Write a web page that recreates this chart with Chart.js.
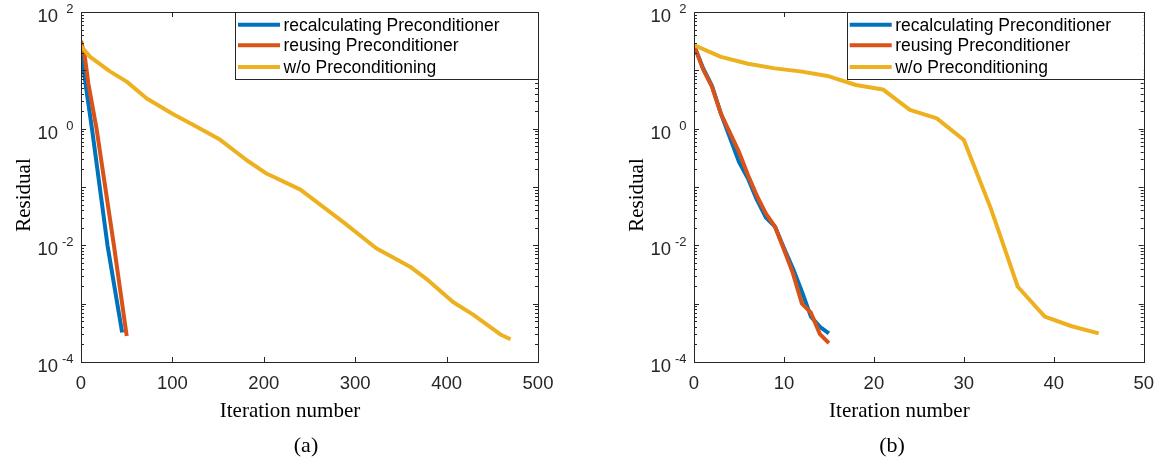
<!DOCTYPE html>
<html>
<head>
<meta charset="utf-8">
<title>Residual vs iteration number</title>
<script src="https://cdn.jsdelivr.net/npm/chart.js@4.4.1/dist/chart.umd.min.js"></script>
<style>
    body { margin: 0; background: #fff; width: 1165px; height: 467px; position: relative; overflow: hidden; }
    .panel { position: absolute; top: 0; }
    .caption { position: absolute; top: 432px; font-family: "Liberation Serif", "DejaVu Serif", serif; font-size: 22px; color: #000; transform: translateX(-50%); }
</style>
</head>
<body>
<div class="panel" style="left:0;"><canvas id="chartA" width="582" height="467"></canvas></div>
<div class="panel" style="left:582px;"><canvas id="chartB" width="583" height="467"></canvas></div>
<div class="caption" style="left:306px;">(a)</div>
<div class="caption" style="left:892px;">(b)</div>

<script>
// Series names
const seriesNames = ['recalculating Preconditioner', 'reusing Preconditioner', 'w/o Preconditioning'];
const seriesColors = ['#0072BD', '#D95319', '#EDB120'];

// Panel (a)
const aRecalcIter = [0, 3, 6, 12, 29, 45];
const aRecalcRes = [30, 10, 4.5, 1.0, 0.01, 3.2e-4];
const aReuseIter = [0, 4, 8, 17, 36, 50];
const aReuseRes = [32, 18, 6, 1.0, 0.01, 2.8e-4];
const aPlainIter = [0, 10, 32, 50, 72, 100, 123, 152, 181, 203, 240, 287, 323, 360, 380, 407, 429, 460, 470];
const aPlainRes = [26, 17, 9.5, 6.4, 3.3, 1.8, 1.16, 0.65, 0.29, 0.17, 0.09, 0.025, 0.0089, 0.0043, 0.0025, 0.00107, 0.00065, 0.00029, 0.000245];

// Panel (b)
const bIter = [0, 1, 2, 3, 4, 5, 6, 7, 8, 9, 10, 11, 12, 13, 14, 15];
const bRecalcRes = [27, 11, 5.4, 1.8, 0.7, 0.27, 0.14, 0.06, 0.03, 0.021, 0.009, 0.004, 0.0016, 0.0006, 0.0004, 0.00031];
const bReuseRes = [27, 10.5, 5.2, 1.8, 0.85, 0.4, 0.16, 0.07, 0.035, 0.021, 0.0085, 0.0033, 0.001, 0.0007, 0.0003, 0.00021];
const bPlainIter = [0, 3, 6, 9, 12, 15, 18, 21, 24, 27, 30, 33, 36, 39, 42, 45];
const bPlainRes = [27, 17, 13, 10.8, 9.5, 7.9, 5.6, 4.7, 2.1, 1.5, 0.64, 0.043, 0.00195, 0.0006, 0.00041, 0.00031];

// Axes
const yMin = 1e-4;
const yMax = 1e2;
const yLabelExponents = [-4, -2, 0, 2];
const xTitle = 'Iteration number';
const yTitle = 'Residual';

const AXIS_COLOR = '#262626';
const SANS = '"Liberation Sans", Arial, Helvetica, sans-serif';
const SERIF = '"Liberation Serif", "DejaVu Serif", serif';

function toPoints(xs, ys) {
    return xs.map((x, i) => ({ x: x, y: ys[i] }));
}

// MATLAB-like box, inward ticks, 10^n labels, titles and legend
const matlabAxes = {
    id: 'matlabAxes',
    afterDraw(chart) {
        const { ctx, chartArea: a, scales: { x, y } } = chart;
        ctx.save();
        ctx.strokeStyle = AXIS_COLOR;
        ctx.lineWidth = 1;

        // box
        ctx.strokeRect(Math.round(a.left) + 0.5, Math.round(a.top) + 0.5,
            Math.round(a.right - a.left), Math.round(a.bottom - a.top));

        ctx.beginPath();
        // x ticks, bottom and top
        x.ticks.forEach(t => {
            const px = Math.round(x.getPixelForValue(t.value)) + 0.5;
            ctx.moveTo(px, a.bottom); ctx.lineTo(px, a.bottom - 5);
            ctx.moveTo(px, a.top); ctx.lineTo(px, a.top + 5);
        });
        // y ticks, major + minor, left and right
        for (let d = -4; d <= 2; d++) {
            for (let m = 1; m <= 9; m++) {
                const v = m * Math.pow(10, d);
                if (v > yMax * 1.0001) break;
                const py = Math.round(y.getPixelForValue(v)) + 0.5;
                const len = m === 1 ? 5 : 3;
                ctx.moveTo(a.left, py); ctx.lineTo(a.left + len, py);
                ctx.moveTo(a.right, py); ctx.lineTo(a.right - len, py);
            }
        }
        ctx.stroke();

        // y tick labels 10^n
        ctx.fillStyle = AXIS_COLOR;
        ctx.textBaseline = 'alphabetic';
        yLabelExponents.forEach(e => {
            const py = y.getPixelForValue(Math.pow(10, e));
            ctx.textAlign = 'right';
            ctx.font = '18.5px ' + SANS;
            ctx.fillText('10', a.left - 23, py + 10);
            ctx.font = '13px ' + SANS;
            ctx.fillText(String(e), a.left - 7.5, py + 1);
        });

        // axis titles
        ctx.fillStyle = '#000';
        ctx.font = '21px ' + SERIF;
        ctx.textAlign = 'center';
        ctx.fillText(xTitle, (a.left + a.right) / 2 - 19.5, 416.5);
        ctx.save();
        ctx.translate(a.left - 57, 195);
        ctx.rotate(-Math.PI / 2);
        ctx.textBaseline = 'middle';
        ctx.fillText(yTitle, 0, 0);
        ctx.restore();

        // legend
        const lx = chart.options.plugins.matlabAxes.legendLeft;
        ctx.fillStyle = '#fff';
        ctx.fillRect(lx, a.top, a.right - lx, 67);
        ctx.strokeStyle = AXIS_COLOR;
        ctx.lineWidth = 1;
        ctx.strokeRect(Math.round(lx) + 0.5, Math.round(a.top) + 0.5, Math.round(a.right - lx), 67);
        ctx.font = '17.5px ' + SANS;
        ctx.textAlign = 'left';
        ctx.textBaseline = 'middle';
        const rows = [12.7, 33.3, 55];
        seriesNames.forEach((name, i) => {
            const ry = a.top + rows[i];
            ctx.strokeStyle = seriesColors[i];
            ctx.lineWidth = 4;
            ctx.beginPath();
            ctx.moveTo(lx + 3, ry); ctx.lineTo(lx + 45, ry);
            ctx.stroke();
            ctx.fillStyle = '#000';
            ctx.fillText(name, lx + 48.5, ry + 1);
        });
        ctx.restore();
    }
};

function makeChart(canvasId, sets, xMax, xStep, opts) {
    const datasets = sets.map((s, i) => ({
        label: seriesNames[i],
        data: s,
        borderColor: seriesColors[i],
        backgroundColor: seriesColors[i],
        borderWidth: 4,
        borderJoinStyle: 'round',
        pointRadius: 0,
        tension: 0,
        fill: false,
        order: 3 - i
    }));

    return new Chart(document.getElementById(canvasId), {
        type: 'line',
        data: { datasets: datasets },
        options: {
            responsive: false,
            animation: false,
            devicePixelRatio: 1,
            layout: { padding: { left: 0, top: 12, right: opts.padRight, bottom: 0 } },
            plugins: {
                legend: { display: false },
                tooltip: { enabled: false },
                matlabAxes: { legendLeft: opts.legendLeft }
            },
            scales: {
                x: {
                    type: 'linear',
                    min: 0,
                    max: xMax,
                    grid: { display: false, drawTicks: false },
                    border: { display: false },
                    ticks: {
                        stepSize: xStep,
                        autoSkip: false,
                        maxRotation: 0,
                        padding: 11,
                        color: AXIS_COLOR,
                        font: { family: SANS, size: 18.5 }
                    },
                    afterFit: (scale) => { scale.height = 105; }
                },
                y: {
                    type: 'logarithmic',
                    min: yMin,
                    max: yMax,
                    grid: { display: false, drawTicks: false },
                    border: { display: false },
                    ticks: { display: false },
                    afterFit: (scale) => { scale.width = opts.yWidth; }
                }
            }
        },
        plugins: [matlabAxes]
    });
}

makeChart('chartA', [
    toPoints(aRecalcIter, aRecalcRes),
    toPoints(aReuseIter, aReuseRes),
    toPoints(aPlainIter, aPlainRes)
], 500, 100, { padRight: 44, yWidth: 81, legendLeft: 235 });

makeChart('chartB', [
    toPoints(bIter, bRecalcRes),
    toPoints(bIter, bReuseRes),
    toPoints(bPlainIter, bPlainRes)
], 50, 10, { padRight: 15, yWidth: 112, legendLeft: 264.7 });
</script>
</body>
</html>
